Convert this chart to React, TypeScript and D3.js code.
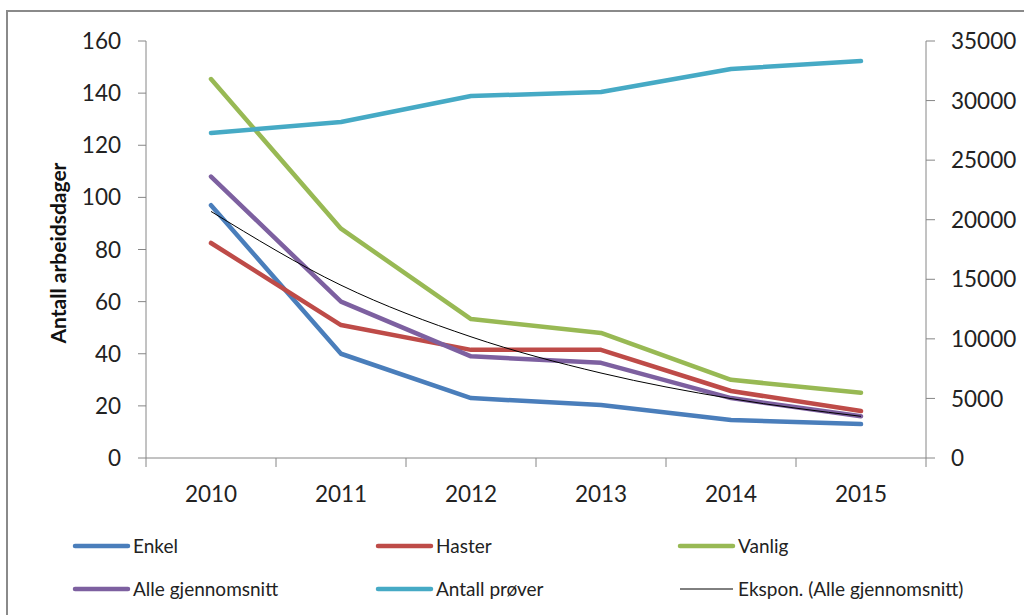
import React from "react";
import * as d3 from "d3";

const years = ["2010", "2011", "2012", "2013", "2014", "2015"];
const enkel = [97, 40, 23, 20.3, 14.6, 13];
const haster = [82.5, 51, 41.5, 41.5, 25.7, 18];
const vanlig = [145.4, 88, 53.3, 48, 30, 25];
const alle = [108, 60, 39, 36.5, 23, 16];
const antallProver = [27280, 28200, 30380, 30720, 32650, 33320];
const trend = [94.6, 66.3, 46.5, 32.6, 22.8, 16.0];
const leftTicks = [0, 20, 40, 60, 80, 100, 120, 140, 160];
const rightTicks = [0, 5000, 10000, 15000, 20000, 25000, 30000, 35000];

const FONT = "Lato, 'Open Sans', sans-serif";
const AX = "#868686";

export default function App() {
  const x0 = 146, x1 = 926, yTop = 41, yBot = 458;
  const xBand = d3.scaleBand().domain(years).range([x0, x1]);
  const xc = (i: number) => (xBand(years[i]) as number) + xBand.bandwidth() / 2;
  const yL = d3.scaleLinear().domain([0, 160]).range([yBot, yTop]);
  const yR = d3.scaleLinear().domain([0, 35000]).range([yBot, yTop]);

  const lineL = d3.line<number>().x((_, i) => xc(i)).y((d) => yL(d));
  const lineR = d3.line<number>().x((_, i) => xc(i)).y((d) => yR(d));
  const lineTrend = d3.line<number>().x((_, i) => xc(i)).y((d) => yL(d)).curve(d3.curveMonotoneX);

  const series = [
    { name: "Enkel", data: enkel, color: "#4A7EBB", r: false },
    { name: "Haster", data: haster, color: "#BE4B48", r: false },
    { name: "Vanlig", data: vanlig, color: "#98B954", r: false },
    { name: "Alle gjennomsnitt", data: alle, color: "#7D60A0", r: false },
    { name: "Antall prøver", data: antallProver, color: "#46AAC5", r: true },
  ];

  const legend = [
    { name: "Enkel", color: "#4A7EBB", w: 4.5 },
    { name: "Haster", color: "#BE4B48", w: 4.5 },
    { name: "Vanlig", color: "#98B954", w: 4.5 },
    { name: "Alle gjennomsnitt", color: "#7D60A0", w: 4.5 },
    { name: "Antall prøver", color: "#46AAC5", w: 4.5 },
    { name: "Ekspon. (Alle gjennomsnitt)", color: "#000", w: 1 },
  ];
  const legCols = [75, 378, 680];
  const legRows = [546, 589];

  const boundaries = d3.range(years.length + 1).map((i) => x0 + i * xBand.bandwidth());

  return (
    <svg width={1024} height={615} style={{ position: "absolute", left: 0, top: 0, background: "#fff" }} fontFamily={FONT}>
      <rect x={0} y={0} width={1024} height={615} fill="#fff" />
      <rect x={7} y={11} width={1030} height={620} fill="none" stroke="#8a8a8a" strokeWidth={2} />

      {/* left axis */}
      <line x1={x0} x2={x0} y1={yTop} y2={yBot} stroke={AX} strokeWidth={1} />
      {leftTicks.map((t) => (
        <g key={"l" + t}>
          <line x1={x0 - 8} x2={x0} y1={yL(t)} y2={yL(t)} stroke={AX} />
          <text x={121} y={yL(t)} dy="0.36em" textAnchor="end" fontSize={22.5} fill="#222">{t}</text>
        </g>
      ))}
      {/* right axis */}
      <line x1={x1} x2={x1} y1={yTop} y2={yBot} stroke={AX} strokeWidth={1} />
      {rightTicks.map((t) => (
        <g key={"r" + t}>
          <line x1={x1} x2={x1 + 9} y1={yR(t)} y2={yR(t)} stroke={AX} />
          <text x={951} y={yR(t)} dy="0.36em" textAnchor="start" fontSize={22.5} fill="#222">{t}</text>
        </g>
      ))}
      {/* x axis */}
      <line x1={x0} x2={x1} y1={yBot} y2={yBot} stroke={AX} />
      {boundaries.map((b, i) => (
        <line key={"b" + i} x1={b} x2={b} y1={yBot} y2={yBot + 9} stroke={AX} />
      ))}
      {years.map((y, i) => (
        <text key={y} x={xc(i)} y={502} textAnchor="middle" fontSize={22.5} fill="#222">{y}</text>
      ))}

      <text transform={`translate(66,253) rotate(-90)`} textAnchor="middle" fontSize={21} fontWeight="bold" fill="#111">
        Antall arbeidsdager
      </text>

      {series.map((s) => (
        <path key={s.name} d={(s.r ? lineR : lineL)(s.data) as string} fill="none" stroke={s.color}
          strokeWidth={4.5} strokeLinejoin="round" strokeLinecap="round" />
      ))}
      <path d={lineTrend(trend) as string} fill="none" stroke="#000" strokeWidth={1} />

      {legend.map((l, i) => {
        const cx = legCols[i % 3];
        const cy = legRows[Math.floor(i / 3)];
        return (
          <g key={l.name}>
            <line x1={cx} x2={cx + 53} y1={cy} y2={cy} stroke={l.color} strokeWidth={l.w} strokeLinecap={l.w > 2 ? "round" : "butt"} />
            <text x={cx + 58} y={cy} dy="0.35em" fontSize={19} fill="#222">{l.name}</text>
          </g>
        );
      })}
    </svg>
  );
}
